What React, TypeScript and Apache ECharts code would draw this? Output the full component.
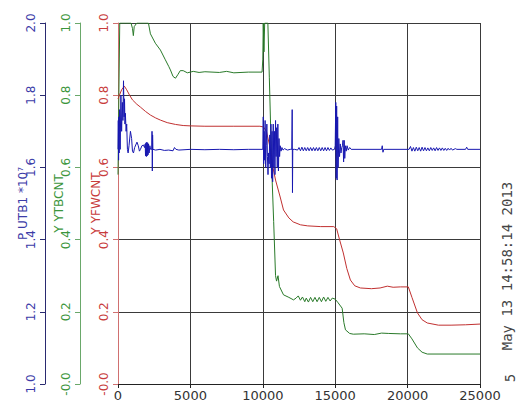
import React, { useEffect, useRef } from "react";
import * as echarts from "echarts";

const xTicks = { min: 0, max: 25000, interval: 5000 };
const dateText = "May 13 14:58:14 2013";
const cornerText = "5";

// Y YFWCNT (red, 0..1)
const redData: number[][] = [
  [0, 0.79], [100, 0.8], [250, 0.815], [440, 0.825], [600, 0.815], [800, 0.8], [1000, 0.787],
  [1300, 0.775], [1550, 0.767], [1900, 0.755], [2240, 0.745], [2600, 0.737], [2930, 0.731],
  [3400, 0.724], [3970, 0.719], [4500, 0.716], [5000, 0.715], [6000, 0.714], [8000, 0.714],
  [9800, 0.714], [10050, 0.712], [10250, 0.7], [10530, 0.65], [10700, 0.6], [10880, 0.565],
  [11200, 0.518], [11430, 0.482], [11800, 0.46], [12100, 0.449], [12600, 0.441], [13100, 0.438],
  [14000, 0.436], [14900, 0.436], [15100, 0.43], [15300, 0.4], [15560, 0.363], [15800, 0.32],
  [16050, 0.288], [16350, 0.272], [16740, 0.266], [17500, 0.264], [18100, 0.266], [18600, 0.271],
  [19000, 0.268], [19500, 0.269], [20050, 0.269], [20300, 0.24], [20680, 0.197], [21000, 0.178],
  [21360, 0.169], [22130, 0.163], [23000, 0.163], [24000, 0.164], [25000, 0.166],
];

// Y YTBCNT (green, 0..1)
const greenData: number[][] = [
  [0, 0.58], [60, 0.8], [120, 1.0], [500, 1.0], [900, 1.0], [1000, 0.985], [1060, 0.965],
  [1120, 0.99], [1300, 1.0], [2100, 1.0], [2240, 0.97], [2580, 0.944], [2930, 0.925],
  [3270, 0.898], [3500, 0.88], [3620, 0.87], [3800, 0.852], [3970, 0.847], [4150, 0.858],
  [4300, 0.868], [4500, 0.868], [4790, 0.862], [5200, 0.866], [5600, 0.863], [6000, 0.865],
  [7000, 0.863], [7500, 0.866], [8000, 0.862], [9000, 0.864], [9950, 0.864], [10000, 0.9],
  [10030, 1.0], [10080, 0.92], [10130, 1.0], [10350, 1.0], [10450, 0.85], [10550, 0.7],
  [10650, 0.56], [10750, 0.45], [10880, 0.3], [10950, 0.285], [11050, 0.3], [11150, 0.27],
  [11430, 0.247], [11800, 0.24], [12120, 0.233], [12300, 0.238], [12450, 0.244], [12600, 0.232],
  [12740, 0.241], [12900, 0.228], [13000, 0.238], [13150, 0.227], [13300, 0.24], [13450, 0.228],
  [13600, 0.24], [13750, 0.228], [13900, 0.24], [14050, 0.228], [14200, 0.241], [14350, 0.229],
  [14500, 0.24], [14650, 0.23], [14800, 0.238], [15000, 0.235], [15200, 0.225], [15480, 0.21],
  [15600, 0.17], [15710, 0.15], [16000, 0.14], [16250, 0.138], [17000, 0.139], [17700, 0.137],
  [18200, 0.141], [18700, 0.14], [19500, 0.139], [20050, 0.139], [20300, 0.125], [20680, 0.1],
  [21000, 0.088], [21360, 0.083], [25000, 0.083],
];

// P UTB1 *10^7 (blue, 1..2)
const blueData: number[][] = [
  [0, 1.65], [20, 1.73], [40, 1.62], [60, 1.74], [80, 1.64], [110, 1.76], [150, 1.65], [200, 1.8],
  [250, 1.7], [300, 1.78], [340, 1.73], [380, 1.84], [420, 1.74], [450, 1.79], [480, 1.72],
  [510, 1.75], [560, 1.7], [600, 1.72], [650, 1.65], [700, 1.64], [760, 1.66], [860, 1.7],
  [940, 1.68], [1000, 1.645], [1070, 1.64], [1150, 1.655], [1310, 1.67], [1400, 1.66],
  [1480, 1.645], [1550, 1.65], [1650, 1.66], [1760, 1.662], [1830, 1.655], [1880, 1.665],
  [1900, 1.632], [1930, 1.668], [1960, 1.63], [1990, 1.67], [2020, 1.632], [2050, 1.668],
  [2080, 1.635], [2110, 1.665], [2150, 1.64], [2200, 1.66], [2250, 1.65], [2330, 1.65],
  [2350, 1.7], [2370, 1.59], [2390, 1.69], [2410, 1.65], [2600, 1.648], [2900, 1.65],
  [3200, 1.647], [3500, 1.648], [3800, 1.646], [3900, 1.655], [4000, 1.65], [4200, 1.648],
  [5000, 1.65], [6000, 1.649], [7000, 1.65], [8000, 1.649], [9000, 1.65], [9950, 1.65],
  [10000, 1.65], [10030, 1.74], [10060, 1.61], [10090, 1.7], [10120, 1.62], [10160, 1.73],
  [10200, 1.6], [10240, 1.66], [10280, 1.72], [10320, 1.63], [10360, 1.58], [10400, 1.64],
  [10440, 1.61], [10480, 1.69], [10520, 1.6], [10560, 1.72], [10600, 1.57], [10640, 1.7],
  [10680, 1.56], [10720, 1.72], [10760, 1.6], [10800, 1.7], [10840, 1.58], [10880, 1.73],
  [10920, 1.63], [10960, 1.71], [11000, 1.6], [11040, 1.72], [11080, 1.59], [11120, 1.68],
  [11160, 1.63], [11200, 1.66], [11260, 1.645], [11320, 1.655], [11400, 1.648], [11500, 1.652],
  [11700, 1.648], [11900, 1.65], [12000, 1.65], [12030, 1.76], [12050, 1.53], [12070, 1.65],
  [12200, 1.65], [12400, 1.648], [12500, 1.655], [12600, 1.646], [12700, 1.656], [12800, 1.646],
  [12900, 1.655], [13000, 1.646], [13100, 1.655], [13200, 1.646], [13300, 1.655], [13400, 1.646],
  [13500, 1.655], [13600, 1.646], [13700, 1.655], [13800, 1.646], [13900, 1.655], [14000, 1.646],
  [14100, 1.655], [14200, 1.646], [14300, 1.655], [14400, 1.646], [14500, 1.655], [14600, 1.647],
  [14700, 1.654], [14800, 1.648], [14950, 1.65], [15000, 1.66], [15040, 1.78], [15070, 1.57],
  [15100, 1.77], [15130, 1.565], [15170, 1.74], [15200, 1.6], [15250, 1.68], [15300, 1.63],
  [15350, 1.665], [15400, 1.64], [15450, 1.655], [15500, 1.66], [15540, 1.675], [15580, 1.615],
  [15620, 1.675], [15660, 1.625], [15700, 1.66], [15760, 1.645], [15820, 1.66], [15900, 1.648],
  [16000, 1.655], [16100, 1.65], [18200, 1.65], [18250, 1.66], [18300, 1.642], [18350, 1.65],
  [20100, 1.65], [20200, 1.658], [20300, 1.645], [20400, 1.655], [20500, 1.645], [20600, 1.656],
  [20700, 1.646], [20800, 1.655], [20900, 1.645], [21000, 1.656], [21100, 1.646], [21200, 1.655],
  [21300, 1.646], [21400, 1.654], [21500, 1.646], [21600, 1.655], [21700, 1.647], [21800, 1.654],
  [21900, 1.646], [22000, 1.655], [22100, 1.647], [22200, 1.654], [22300, 1.647], [22400, 1.654],
  [22500, 1.647], [22600, 1.653], [22700, 1.647], [22800, 1.653], [22900, 1.648], [23000, 1.653],
  [23100, 1.648], [23300, 1.652], [23400, 1.65], [24000, 1.65], [24080, 1.656], [24150, 1.65],
  [25000, 1.65],
];

const FONT = "DejaVu Sans";
const RED = "#c83c3c";
const GREEN = "#3c963c";
const BLUE = "#3c3ca8";
const GRIDC = "#3a3a3a";

const fmt0 = (v: number) => (Math.abs(v) < 1e-9 ? "-0.0" : v.toFixed(1));
const fmt1 = (v: number) => v.toFixed(1);
const fmtX = (v: number) => String(Math.round(v));

export default function App() {
  const ref = useRef<HTMLDivElement>(null);
  useEffect(() => {
    if (!ref.current) return;
    const chart = echarts.init(ref.current, null, { renderer: "svg" });
    const yBase = (color: string, lineColor: string) => ({
      type: "value" as const,
      position: "left" as const,
      interval: 0.2,
      nameLocation: "middle" as const,
      nameRotate: 90,
      nameMoveOverlap: false,
      nameTextStyle: { color, fontSize: 12, fontFamily: FONT, padding: [0, 0, 0, 0] },
      axisLine: { show: true, lineStyle: { color: lineColor, width: 1 } },
      axisTick: { show: true, length: 5, lineStyle: { color: lineColor } },
    });
    chart.setOption({
      animation: false,
      backgroundColor: "#ffffff",
      grid: { left: 118, right: 42, top: 23, bottom: 18, containLabel: false },
      xAxis: {
        type: "value",
        min: xTicks.min,
        max: xTicks.max,
        interval: xTicks.interval,
        axisLine: { lineStyle: { color: "#222", width: 1 } },
        axisTick: { show: true, length: 4, lineStyle: { color: "#222" } },
        axisLabel: { color: "#333", fontSize: 13, fontFamily: FONT, margin: 5, formatter: fmtX },
        splitLine: { show: true, lineStyle: { color: GRIDC, width: 1 } },
      },
      yAxis: [
        {
          ...yBase(RED, "#d07070"),
          min: 0,
          max: 1,
          offset: 0,
          name: "Y YFWCNT",
          nameGap: 16,
          axisLabel: { rotate: 90, color: RED, fontSize: 12, fontFamily: FONT, margin: 8, formatter: fmt0 },
          splitLine: { show: true, lineStyle: { color: GRIDC, width: 1 } },
        },
        {
          ...yBase(GREEN, "#6aa86a"),
          min: 0,
          max: 1,
          offset: 38,
          name: "Y YTBCNT",
          nameGap: 15,
          axisLabel: { rotate: 90, color: GREEN, fontSize: 12, fontFamily: FONT, margin: 8, formatter: fmt0 },
          splitLine: { show: false },
        },
        {
          ...yBase(BLUE, "#2a2a70"),
          min: 1,
          max: 2,
          offset: 73,
          name: "P UTB1 *10\u2077",
          nameGap: 16,
          axisLabel: { rotate: 90, color: BLUE, fontSize: 12, fontFamily: FONT, margin: 8, formatter: fmt1 },
          splitLine: { show: false },
        },
      ],
      series: [
        {
          type: "line",
          yAxisIndex: 1,
          data: greenData,
          showSymbol: false,
          lineStyle: { color: "#2a7a2a", width: 1 },
          itemStyle: { color: "#2a7a2a" },
        },
        {
          type: "line",
          yAxisIndex: 0,
          data: redData,
          showSymbol: false,
          lineStyle: { color: "#c03030", width: 1 },
          itemStyle: { color: "#c03030" },
        },
        {
          type: "line",
          yAxisIndex: 2,
          data: blueData,
          showSymbol: false,
          lineStyle: { color: "#1818b0", width: 1 },
          itemStyle: { color: "#1818b0" },
        },
      ],
      graphic: [
        {
          type: "text",
          x: 507,
          y: 266,
          rotation: Math.PI / 2,
          style: {
            text: dateText,
            fill: "#444",
            fontSize: 14,
            fontFamily: "DejaVu Sans Mono",
            textAlign: "center",
            textVerticalAlign: "middle",
          },
        },
        {
          type: "text",
          x: 510,
          y: 378,
          rotation: Math.PI / 2,
          style: {
            text: cornerText,
            fill: "#444",
            fontSize: 14,
            fontFamily: "DejaVu Sans Mono",
            textAlign: "center",
            textVerticalAlign: "middle",
          },
        },
      ],
    });
    return () => chart.dispose();
  }, []);
  return (
    <div
      ref={ref}
      style={{ position: "absolute", left: 0, top: 0, width: 522, height: 402, background: "#fff" }}
    />
  );
}
